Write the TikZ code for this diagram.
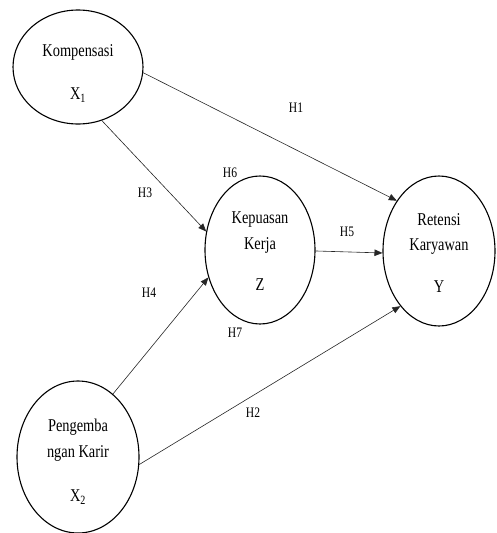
\documentclass[tikz,border=0pt]{standalone}
\usepackage{fontspec}
\setmainfont{Liberation Serif}[FakeStretch=0.8]
\usetikzlibrary{shapes.geometric,arrows.meta}
\begin{document}
\begin{tikzpicture}[x=1pt,y=-1pt,
  var/.style={draw=black,line width=1.1pt,ellipse,inner sep=0pt},
  lbl/.style={inner sep=0pt,font=\fontsize{18}{20}\selectfont},
  hyp/.style={inner sep=0pt,font=\fontsize{14.5}{16}\selectfont},
  path/.style={draw=black!85,line width=0.6pt,-{Triangle[length=8pt,width=6.5pt]}}]
\useasboundingbox (0,0) rectangle (496,533);
\node[var,minimum width=130pt,minimum height=114pt] (k) at (78,67) {};
\node[var,minimum width=110pt,minimum height=148pt] (z) at (260,250) {};
\node[var,minimum width=112pt,minimum height=150pt] (r) at (439,251) {};
\node[var,minimum width=122pt,minimum height=152pt] (p) at (78,457) {};
\node[lbl] (kt) at (78,52) {Kompensasi};
\node[lbl] (kx) at (78,95) {X\textsubscript{1}};
\node[lbl] (zt1) at (260,220) {Kepuasan};
\node[lbl] (zt2) at (260,245) {Kerja};
\node[lbl] (zz) at (260,285) {Z};
\node[lbl] (rt1) at (439,220) {Retensi};
\node[lbl] (rt2) at (439,247) {Karyawan};
\node[lbl] (ry) at (439,287) {Y};
\node[lbl] (pt1) at (78,427) {Pengemba};
\node[lbl] (pt2) at (78,453) {ngan Karir};
\node[lbl] (px) at (78,497) {X\textsubscript{2}};
\node[hyp] (h1) at (296,108) {H1};
\node[hyp] (h2) at (253,413) {H2};
\node[hyp] (h3) at (145,193) {H3};
\node[hyp] (h4) at (149,293) {H4};
\node[hyp] (h5) at (347,232) {H5};
\node[hyp] (h6) at (230,173) {H6};
\node[hyp] (h7) at (235,333) {H7};
\draw[path] (k.-5) -- (r.130.6);
\draw[path] (k.-66.4) -- (z.161.9);
\draw[path] (z.-1) -- (r.182);
\draw[path] (p.61.7) -- (z.208.3);
\draw[path] (p.-7.5) -- (r.235.6);
\end{tikzpicture}
\end{document}
